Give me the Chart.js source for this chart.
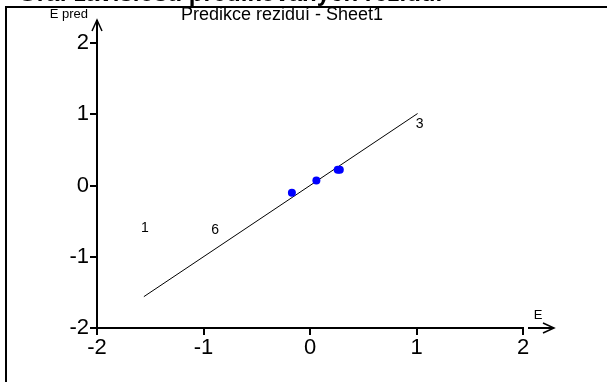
<!DOCTYPE html>
<html>
<head>
<meta charset="utf-8">
<script src="https://cdn.jsdelivr.net/npm/chart.js@4.4.1/dist/chart.umd.min.js"></script>
<style>
  html, body { margin: 0; padding: 0; background: #fff; }
  #wrap { width: 607px; height: 382px; }
</style>
</head>
<body>
<div id="wrap"><canvas id="c" width="607" height="382"></canvas></div>
<script>
// Residuals vs. their predictions
const residE = [-0.17, 0.06, 0.26, 0.28];
const residEpred = [-0.10, 0.07, 0.22, 0.22];

// Outlying observations, drawn as their case numbers
const outlierIds = ['1', '6', '3'];
const outlierE = [-1.55, -0.89, 1.03];
const outlierEpred = [-0.60, -0.62, 0.86];

// Reference line E pred = E
const refLineX = [-1.56, 1.01];
const refLineY = [-1.56, 1.01];

const axisTicks = [-2, -1, 0, 1, 2];

const FONT = '"Liberation Sans", Arial, sans-serif';

const decor = {
  id: 'decor',
  afterDraw(chart) {
    const ctx = chart.ctx;
    const xs = chart.scales.x, ys = chart.scales.y;
    const ax = xs.getPixelForValue(-2);
    const ay = ys.getPixelForValue(-2);
    const top = ys.getPixelForValue(2);
    const right = xs.getPixelForValue(2);
    ctx.save();
    ctx.strokeStyle = '#000';
    ctx.fillStyle = '#000';

    // page heading (clipped at the top edge)
    ctx.font = 'bold 24px ' + FONT;
    ctx.textAlign = 'left';
    ctx.textBaseline = 'alphabetic';
    ctx.fillText('Graf závislosti predikovaných reziduí', 18, 1);

    // outer frame
    ctx.lineWidth = 2;
    ctx.beginPath();
    ctx.moveTo(6, 382); ctx.lineTo(6, 7); ctx.lineTo(607, 7);
    ctx.stroke();

    // y axis extension with arrow
    ctx.lineWidth = 2;
    ctx.beginPath();
    ctx.moveTo(ax, top); ctx.lineTo(ax, 20);
    ctx.stroke();
    ctx.lineWidth = 1.5;
    ctx.beginPath();
    ctx.moveTo(ax - 5, 31); ctx.lineTo(ax, 20); ctx.lineTo(ax + 5, 31);
    ctx.stroke();

    // x axis arrow
    ctx.lineWidth = 2;
    ctx.beginPath();
    ctx.moveTo(right + 5, ay); ctx.lineTo(553, ay);
    ctx.stroke();
    ctx.lineWidth = 1.5;
    ctx.beginPath();
    ctx.moveTo(543, ay - 5); ctx.lineTo(554, ay); ctx.lineTo(543, ay + 5);
    ctx.stroke();

    // axis names
    ctx.font = '13px ' + FONT;
    ctx.textAlign = 'right';
    ctx.textBaseline = 'middle';
    ctx.fillText('E pred', 88, 14);
    ctx.textAlign = 'center';
    ctx.fillText('E', 538, 315);

    // chart title
    ctx.font = '18px ' + FONT;
    ctx.textAlign = 'center';
    ctx.fillText('Predikce reziduí - Sheet1', 282, 15);

    // case numbers of outliers
    ctx.font = '14px ' + FONT;
    outlierIds.forEach((id, i) => {
      ctx.fillText(id, xs.getPixelForValue(outlierE[i]), ys.getPixelForValue(outlierEpred[i]));
    });
    ctx.restore();
  }
};

new Chart(document.getElementById('c'), {
  type: 'scatter',
  data: {
    datasets: [
      {
        label: 'Reference',
        data: refLineX.map((x, i) => ({ x, y: refLineY[i] })),
        showLine: true,
        borderColor: '#000',
        borderWidth: 1,
        pointRadius: 0,
        order: 2
      },
      {
        label: 'E pred',
        data: residE.map((x, i) => ({ x, y: residEpred[i] })),
        backgroundColor: '#0000ff',
        borderColor: '#0000ff',
        pointRadius: 4,
        borderWidth: 0,
        order: 1
      }
    ]
  },
  options: {
    responsive: false,
    animation: false,
    events: [],
    layout: { padding: { top: 43, right: 84, left: 0, bottom: 0 } },
    plugins: { legend: { display: false }, tooltip: { enabled: false }, title: { display: false } },
    scales: {
      x: {
        type: 'linear', min: -2, max: 2,
        afterFit(s) { s.height = 54; },
        afterBuildTicks(s) { s.ticks = axisTicks.map(v => ({ value: v })); },
        ticks: { color: '#000', font: { family: FONT, size: 22 }, padding: 0, maxRotation: 0 },
        grid: { drawOnChartArea: false, drawTicks: true, tickLength: 7, color: '#000', lineWidth: 2 },
        border: { display: true, color: '#000', width: 2 }
      },
      y: {
        type: 'linear', min: -2, max: 2,
        afterFit(s) { s.width = 97; },
        afterBuildTicks(s) { s.ticks = axisTicks.map(v => ({ value: v })); },
        ticks: { color: '#000', font: { family: FONT, size: 22 }, padding: 1 },
        grid: { drawOnChartArea: false, drawTicks: true, tickLength: 7, color: '#000', lineWidth: 2 },
        border: { display: true, color: '#000', width: 2 }
      }
    }
  },
  plugins: [decor]
});
</script>
</body>
</html>
